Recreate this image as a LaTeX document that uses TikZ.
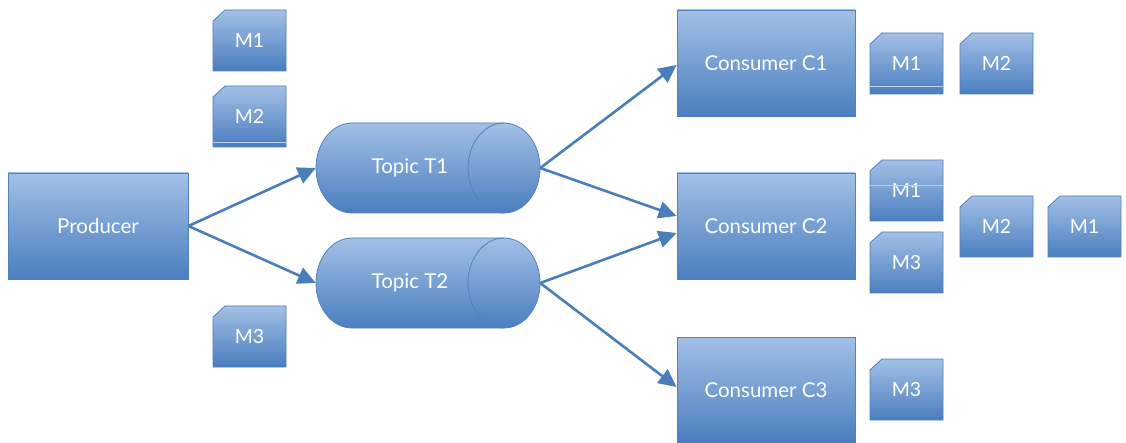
\documentclass[tikz,border=0pt]{standalone}
\usepackage{fontspec}
\setmainfont{Lato}
\usetikzlibrary{arrows.meta}
\definecolor{bordc}{HTML}{4F81BD}
\definecolor{topc}{HTML}{A3C0E6}
\definecolor{botc}{HTML}{4A7EBF}
\definecolor{arrc}{HTML}{4A7EBB}
\definecolor{seam}{HTML}{B8CEEB}
\tikzset{
  shadefill/.style={draw=bordc, line width=0.8pt, top color=topc, bottom color=botc},
  boxnode/.style={shadefill, text=white, font=\fontsize{20.5}{22}\selectfont,
    minimum width=178pt, minimum height=106pt, inner sep=0pt},
  txt/.style={text=white, font=\fontsize{20.5}{22}\selectfont, inner sep=0pt},
  msgtxt/.style={text=white, font=\fontsize{19.5}{21}\selectfont, inner sep=0pt},
  conn/.style={draw=arrc, line width=2.6pt, -{Triangle[length=18pt,width=17pt]}},
  seamline/.style={draw=seam, line width=0.8pt}
}
\newcommand\msgbox[4]{%
  \path[shadefill] (#2+12,#3) -- (#2+73,#3) -- (#2+73,#3+61) -- (#2,#3+61) -- (#2,#3+11) -- cycle;
  \node[msgtxt] (#1) at (#2+36.5,#3+30.5) {#4};
}
\newcommand\cyl[4]{% name, left x, center y, text
  \path[shadefill] (#2+188,#3-45) -- (#2+36,#3-45)
     arc[start angle=90, end angle=270, x radius=36pt, y radius=45pt]
     -- (#2+188,#3+45)
     arc[start angle=-90, end angle=90, x radius=36pt, y radius=45pt] -- cycle;
  \draw[bordc, line width=0.8pt] (#2+188,#3-45)
     arc[start angle=90, end angle=270, x radius=36pt, y radius=45pt];
  \node[minimum width=224pt, minimum height=90pt, inner sep=0pt] (#1) at (#2+112,#3) {};
  \node[txt] (#1text) at (#2+94,#3) {#4};
}
\begin{document}
\begin{tikzpicture}[x=1pt,y=-1pt]
\useasboundingbox (0,0) rectangle (1126,443);

\node[boxnode, minimum width=180pt] (prod) at (98,226) {Producer};
\node[boxnode] (c1) at (766,63) {Consumer C1};
\node[boxnode] (c2) at (766,226) {Consumer C2};
\node[boxnode] (c3) at (766,390) {Consumer C3};

\cyl{t1}{316}{168}{Topic T1}
\cyl{t2}{316}{283}{Topic T2}

\msgbox{pm1}{213}{10}{M1}
\msgbox{pm2}{213}{86}{M2}
\draw[seamline] (213,142) -- (286,142);
\msgbox{pm3}{213}{306}{M3}

\msgbox{aone}{870}{33}{M1}
\draw[seamline] (870,86) -- (943,86);
\msgbox{atwo}{960}{33}{M2}

\msgbox{bone}{870}{160}{M1}
\draw[seamline] (870,185) -- (943,185);
\msgbox{bthree}{870}{232}{M3}
\msgbox{btwo}{960}{196}{M2}
\msgbox{bfour}{1048}{196}{M1}

\msgbox{cthree}{870}{359}{M3}

\draw[conn] (prod.east) -- (t1.west);
\draw[conn] (prod.east) -- (t2.west);
\draw[conn] (t1.east) -- ([yshift=-2pt]c1.west);
\draw[conn] (t1.east) -- ([yshift=10pt]c2.west);
\draw[conn] (t2.east) -- ([yshift=-7pt]c2.west);
\draw[conn] (t2.east) -- ([yshift=3pt]c3.west);
\end{tikzpicture}
\end{document}
